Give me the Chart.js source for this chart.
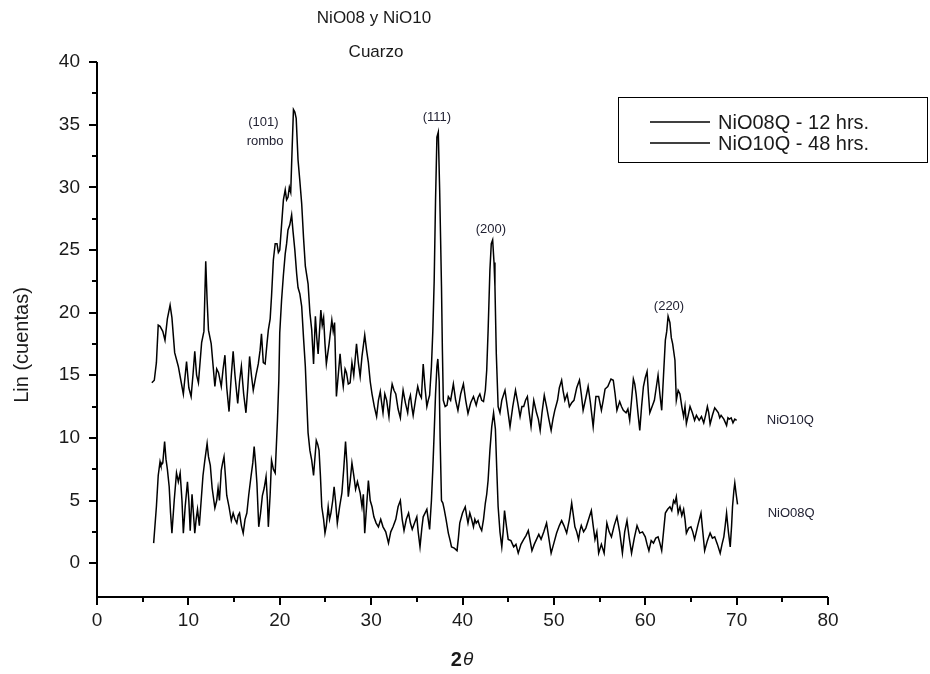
<!DOCTYPE html>
<html>
<head>
<meta charset="utf-8">
<script src="https://cdn.jsdelivr.net/npm/chart.js@4.4.1/dist/chart.umd.min.js"></script>
<style>
  html, body { margin: 0; padding: 0; background: #fff; }
  #wrap { width: 930px; height: 674px; }
</style>
</head>
<body>
<div id="wrap"><canvas id="xrd" width="930" height="674"></canvas></div>
<script>
// NiO10Q - 48 hrs. (curva superior)
const nio10X = [
  6.0,6.27,6.5,6.7,6.9,7.2,7.44,7.7,8.0,8.2,
  8.5,8.9,9.2,9.45,9.8,10.05,10.3,10.5,10.7,10.9,
  11.1,11.45,11.7,11.9,12.05,12.2,12.5,12.9,13.1,13.3,
  13.6,13.8,14.0,14.2,14.45,14.7,14.9,15.1,15.4,15.6,
  15.8,16.05,16.3,16.5,16.7,16.9,17.1,17.4,17.65,17.85,
  18.0,18.2,18.4,18.6,18.75,18.95,19.1,19.3,19.5,19.7,
  19.85,20.0,20.2,20.4,20.6,20.75,20.9,21.05,21.2,21.35,
  21.5,21.65,21.8,22.0,22.2,22.4,22.6,22.8,23.1,23.3,
  23.5,23.7,23.9,24.05,24.2,24.35,24.5,24.65,24.8,24.95,
  25.1,25.4,25.7,25.85,26.0,26.2,26.4,26.6,26.8,26.95,
  27.15,27.3,27.5,27.7,27.9,28.1,28.4,28.6,28.8,29.0,
  29.3,29.5,29.7,29.9,30.1,30.35,30.6,30.8,31.0,31.15,
  31.3,31.5,31.7,31.95,32.15,32.3,32.5,32.7,32.95,33.2,
  33.35,33.5,33.75,34.0,34.15,34.3,34.45,34.6,34.85,35.1,
  35.3,35.5,35.7,35.9,36.1,36.25,36.4,36.6,36.75,36.9,
  37.05,37.2,37.35,37.5,37.6,37.7,37.8,37.9,38.1,38.3,
  38.45,38.7,39.0,39.25,39.5,39.8,40.1,40.35,40.6,40.9,
  41.2,41.5,41.7,41.9,42.1,42.3,42.5,42.65,42.8,43.0,
  43.15,43.3,43.45,43.55,43.7,43.9,44.1,44.3,44.65,44.9,
  45.2,45.5,45.8,46.05,46.3,46.5,46.7,46.9,47.1,47.3,
  47.5,47.65,47.8,48.1,48.3,48.5,48.7,48.95,49.2,49.45,
  49.7,49.9,50.1,50.4,50.6,50.85,51.0,51.2,51.45,51.7,
  51.95,52.2,52.5,52.8,53.0,53.2,53.5,53.75,54.0,54.3,
  54.6,54.9,55.2,55.4,55.6,55.9,56.25,56.5,56.7,56.9,
  57.2,57.4,57.6,57.9,58.1,58.3,58.5,58.7,58.85,59.0,
  59.2,59.4,59.6,59.8,60.0,60.2,60.35,60.5,60.75,61.0,
  61.2,61.4,61.6,61.8,62.0,62.2,62.35,62.5,62.7,62.85,
  63.0,63.25,63.4,63.6,63.8,64.0,64.2,64.35,64.5,64.7,
  64.9,65.15,65.4,65.6,65.9,66.15,66.4,66.6,66.8,66.95,
  67.1,67.35,67.6,67.8,68.0,68.15,68.3,68.6,68.9,69.05,
  69.2,69.4,69.6,69.8,70.0
];
const nio10Y = [
  14.4,14.6,16.0,19.0,18.9,18.5,17.8,19.5,20.6,19.6,
  16.8,15.7,14.5,13.5,16.1,14.0,13.3,15.0,16.9,15.0,
  14.4,17.6,18.5,24.1,21.0,18.6,17.5,14.1,15.5,15.2,
  14.1,15.5,16.6,14.0,12.1,15.0,16.9,15.0,12.75,14.5,
  15.7,13.5,12.0,14.0,16.5,15.0,13.8,15.0,15.9,17.0,
  18.3,16.0,15.9,17.5,18.6,19.5,21.3,24.2,25.5,25.5,
  24.8,25.0,27.0,29.0,29.8,29.0,29.2,30.0,29.6,33.0,
  36.2,36.0,35.5,32.2,30.5,28.7,26.0,23.7,22.3,20.0,
  18.6,15.9,19.7,18.0,16.7,18.5,20.2,19.0,19.6,17.5,
  15.9,17.5,19.4,18.5,19.2,13.3,15.0,16.7,15.0,14.1,
  15.5,15.2,14.3,14.4,16.0,15.0,17.5,16.0,14.9,16.5,
  18.2,17.0,16.0,14.5,13.5,12.5,11.7,13.0,13.7,12.8,
  12.0,13.5,13.0,11.7,13.5,14.3,13.8,13.5,12.3,11.6,
  12.8,13.8,12.8,12.0,13.0,13.4,12.5,11.8,13.0,14.1,
  13.5,13.2,15.9,14.0,12.5,13.0,13.4,15.7,18.5,22.5,
  29.0,34.0,34.4,29.8,26.0,22.1,17.0,13.0,12.5,12.6,
  13.3,13.0,14.3,13.0,12.2,13.5,14.3,13.0,11.95,12.8,
  13.3,12.6,13.2,13.5,13.0,12.9,13.8,15.4,18.5,23.4,
  25.5,25.8,24.0,22.1,16.7,12.5,12.0,13.0,13.8,12.5,
  10.9,12.5,13.8,12.8,11.7,12.5,12.5,13.0,13.3,12.0,
  10.9,12.0,13.0,12.0,11.5,10.6,12.0,13.4,12.5,11.5,
  10.6,11.5,12.2,13.0,14.0,14.6,13.8,13.0,13.5,12.5,
  12.8,13.0,14.0,14.6,13.5,12.2,13.2,14.1,12.8,10.9,
  13.3,13.3,12.2,13.0,13.9,14.1,14.7,14.6,13.5,12.2,
  12.9,12.5,12.2,12.0,12.3,11.4,13.0,14.7,14.3,13.5,
  12.0,10.6,12.5,14.1,14.8,15.3,13.5,12.0,12.5,13.0,
  14.0,15.0,13.5,12.2,15.0,17.8,18.5,19.7,19.2,18.0,
  17.5,16.2,13.0,13.8,13.5,12.5,11.7,12.5,11.15,11.8,
  12.5,12.0,11.4,11.8,11.4,11.7,11.2,11.8,12.5,12.0,
  11.1,11.8,12.4,12.2,12.0,11.6,11.8,11.5,11.0,11.6,
  11.5,11.6,11.2,11.5,11.4
];

// NiO08Q - 12 hrs. (curva inferior)
const nio08X = [
  6.2,6.5,6.7,6.9,7.0,7.2,7.4,7.55,7.7,7.9,
  8.05,8.2,8.45,8.7,8.9,9.1,9.3,9.45,9.65,9.9,
  10.05,10.2,10.4,10.55,10.7,10.85,11.0,11.2,11.4,11.6,
  11.8,12.05,12.2,12.4,12.6,12.9,13.1,13.25,13.4,13.6,
  13.75,13.9,14.05,14.2,14.45,14.7,14.9,15.1,15.3,15.45,
  15.6,15.8,16.0,16.2,16.4,16.6,16.85,17.05,17.2,17.35,
  17.5,17.7,17.9,18.1,18.3,18.5,18.65,18.75,18.95,19.1,
  19.3,19.5,19.75,19.9,20.0,20.2,20.4,20.6,20.75,20.9,
  21.1,21.3,21.45,21.65,21.85,22.0,22.2,22.4,22.6,22.8,
  22.95,23.1,23.3,23.5,23.7,24.0,24.15,24.3,24.45,24.6,
  24.8,24.95,25.1,25.3,25.45,25.6,25.8,25.95,26.1,26.3,
  26.55,26.8,27.0,27.2,27.35,27.5,27.7,27.9,28.1,28.3,
  28.5,28.8,29.0,29.15,29.3,29.5,29.7,29.9,30.1,30.3,
  30.55,30.8,31.05,31.3,31.6,31.9,32.15,32.4,32.7,32.95,
  33.2,33.4,33.6,33.85,34.1,34.3,34.5,34.75,35.0,35.15,
  35.35,35.55,35.7,35.9,36.1,36.25,36.4,36.6,36.75,36.9,
  37.05,37.2,37.3,37.45,37.55,37.7,37.85,38.0,38.2,38.45,
  38.65,38.8,39.1,39.4,39.55,39.7,40.0,40.3,40.45,40.6,
  40.8,41.0,41.2,41.35,41.5,41.7,41.9,42.1,42.3,42.5,
  42.65,42.8,43.0,43.2,43.4,43.6,43.75,43.9,44.1,44.3,
  44.45,44.6,44.8,45.0,45.3,45.6,45.85,46.1,46.4,46.7,
  46.95,47.2,47.4,47.6,47.85,48.1,48.35,48.6,48.9,49.2,
  49.45,49.7,50.0,50.3,50.6,50.85,51.1,51.4,51.7,51.95,
  52.1,52.3,52.5,52.7,52.85,53.0,53.25,53.5,53.8,54.1,
  54.3,54.5,54.7,54.9,55.2,55.5,55.65,55.8,56.05,56.3,
  56.6,56.9,57.2,57.5,57.75,58.0,58.25,58.5,58.8,59.1,
  59.4,59.7,60.0,60.2,60.4,60.65,60.9,61.15,61.4,61.6,
  61.8,62.0,62.2,62.45,62.7,62.9,63.1,63.25,63.4,63.6,
  63.8,64.0,64.2,64.35,64.5,64.75,65.0,65.2,65.4,65.75,
  66.1,66.3,66.5,66.8,67.1,67.35,67.6,67.9,68.2,68.4,
  68.6,68.75,68.9,69.1,69.3,69.45,69.55,69.7,69.8,69.95,
  70.1
];
const nio08Y = [
  1.6,4.5,7.0,8.1,7.8,8.0,9.7,8.3,7.5,6.1,
  4.0,2.4,5.0,7.2,6.5,7.2,5.0,2.4,4.5,6.5,
  5.0,2.6,5.5,4.0,2.4,3.5,4.3,3.0,5.0,7.0,
  8.2,9.55,8.5,7.8,6.0,4.4,5.0,6.0,5.0,7.4,
  8.0,8.5,7.0,5.4,4.5,3.4,4.0,3.5,3.2,3.8,
  4.0,3.0,2.4,3.5,4.0,5.4,6.9,8.0,9.3,8.0,
  6.4,2.9,4.0,5.4,6.0,6.9,5.0,2.9,5.5,8.2,
  7.5,7.2,11.4,14.6,18.4,21.0,23.0,24.7,25.5,26.6,
  27.0,27.8,26.5,25.0,23.1,22.0,21.5,20.5,18.0,15.7,
  13.0,10.4,9.0,8.2,7.0,9.8,9.5,9.0,7.0,4.5,
  3.5,2.4,3.0,4.5,3.5,4.0,5.0,6.1,5.0,3.2,
  4.5,5.6,7.5,9.7,8.0,5.3,6.5,8.0,7.0,5.9,
  6.5,5.6,4.5,5.5,2.4,4.5,6.6,5.0,4.5,3.7,
  3.2,2.9,3.5,2.9,2.5,1.6,2.5,2.9,3.5,4.5,
  5.0,3.5,2.6,3.5,4.0,3.2,2.7,3.2,3.7,2.5,
  1.3,2.8,3.7,4.0,4.3,3.5,2.7,5.0,7.5,10.4,
  13.5,15.7,16.3,14.5,10.0,5.0,4.8,4.3,3.5,2.4,
  1.8,1.3,1.2,1.0,2.0,3.2,4.0,4.5,3.8,3.2,
  4.0,3.5,2.9,3.5,3.2,3.4,2.9,2.6,3.5,4.8,
  5.5,6.6,9.0,10.9,12.0,10.7,7.5,4.5,2.5,1.3,
  2.5,4.2,3.0,1.9,1.8,1.3,1.5,0.8,1.5,1.9,
  2.2,2.6,1.8,1.0,1.5,1.9,2.3,1.9,2.5,3.2,
  2.0,0.8,1.6,2.4,3.0,3.4,3.0,2.4,3.5,4.8,
  4.0,2.9,2.5,1.9,2.6,3.0,2.5,2.8,3.5,4.2,
  3.0,1.9,2.5,0.8,1.5,0.8,2.0,3.2,2.5,2.1,
  3.0,3.7,2.5,0.8,2.5,3.4,2.0,0.8,2.0,3.0,
  2.4,2.5,2.1,1.5,1.0,1.8,1.6,2.0,2.1,1.6,
  1.0,2.5,4.0,4.3,4.5,4.2,5.0,4.8,5.3,4.0,
  4.5,3.8,4.3,3.5,2.4,2.8,2.9,2.5,1.9,3.0,
  4.0,2.5,1.0,1.8,2.4,2.0,2.1,1.5,0.8,1.5,
  2.1,3.0,4.0,2.5,1.3,3.0,4.5,5.8,6.4,5.5,
  4.7
];

const seriesNames = ["NiO08Q - 12 hrs.", "NiO10Q - 48 hrs."];
const xTicks = [0, 10, 20, 30, 40, 50, 60, 70, 80];
const yTicks = [0, 5, 10, 15, 20, 25, 30, 35, 40];

// etiquetas de picos (en coordenadas de los datos)
const peakText = ["(101)", "rombo", "(111)", "(200)", "(220)"];
const peakX = [18.2, 18.4, 37.2, 43.1, 62.6];
const peakY = [35.2, 33.7, 35.6, 26.6, 20.5];
const curveText = ["NiO10Q", "NiO08Q"];
const curveX = [73.3, 73.4];
const curveY = [11.4, 4.0];

if (nio10X.length !== nio10Y.length || nio08X.length !== nio08Y.length) {
  throw new Error("lengths " + nio10X.length + "/" + nio10Y.length + " " + nio08X.length + "/" + nio08Y.length);
}

const FONT = '"Liberation Sans", Arial, sans-serif';
const toPts = (xs, ys) => xs.map((v, i) => ({ x: v, y: ys[i] }));

const decor = {
  id: "decor",
  afterDraw(chart) {
    const { ctx, chartArea: a, scales: { x, y } } = chart;
    ctx.save();
    ctx.strokeStyle = "#000";
    ctx.lineWidth = 2;
    ctx.beginPath();
    ctx.moveTo(a.left, a.top);
    ctx.lineTo(a.left, a.bottom);
    ctx.lineTo(a.right, a.bottom);
    ctx.stroke();

    // marcas de los ejes
    for (let v = 0; v <= 80; v += 5) {
      const px = Math.round(x.getPixelForValue(v));
      const len = v % 10 === 0 ? 8 : 5;
      ctx.beginPath();
      ctx.moveTo(px, a.bottom);
      ctx.lineTo(px, a.bottom + len);
      ctx.stroke();
    }
    for (let v = 0; v <= 40; v += 2.5) {
      const py = Math.round(y.getPixelForValue(v));
      const len = v % 5 === 0 ? 8 : 5;
      ctx.beginPath();
      ctx.moveTo(a.left, py);
      ctx.lineTo(a.left - len, py);
      ctx.stroke();
    }

    ctx.fillStyle = "#1a1a1a";
    ctx.textAlign = "center";
    ctx.textBaseline = "middle";
    ctx.font = "17px " + FONT;
    ctx.fillText("NiO08 y NiO10", 374, 18);
    ctx.fillText("Cuarzo", 376, 52);

    // titulo eje y
    ctx.save();
    ctx.translate(22, 345);
    ctx.rotate(-Math.PI / 2);
    ctx.font = "20px " + FONT;
    ctx.fillText("Lin (cuentas)", 0, 0);
    ctx.restore();

    // titulo eje x: 2θ
    ctx.font = "bold 20px " + FONT;
    const w2 = ctx.measureText("2").width;
    ctx.font = "italic 19px " + FONT;
    const wt = ctx.measureText("θ").width;
    const x0 = 462 - (w2 + wt + 1) / 2;
    ctx.textAlign = "left";
    ctx.font = "bold 20px " + FONT;
    ctx.fillText("2", x0, 660);
    ctx.font = "italic 19px " + FONT;
    ctx.fillText("θ", x0 + w2 + 1, 660);

    // leyenda
    ctx.lineWidth = 1;
    ctx.strokeRect(618.5, 97.5, 309, 65);
    ctx.lineWidth = 1.4;
    [122, 143].forEach((ly, i) => {
      ctx.beginPath();
      ctx.moveTo(650, ly);
      ctx.lineTo(710, ly);
      ctx.stroke();
      ctx.font = "20px " + FONT;
      ctx.fillText(seriesNames[i], 718, ly + 1);
    });

    // etiquetas de picos
    ctx.font = "13px " + FONT;
    ctx.fillStyle = "#222233";
    ctx.textAlign = "center";
    peakText.forEach((t, i) => {
      ctx.fillText(t, x.getPixelForValue(peakX[i]), y.getPixelForValue(peakY[i]));
    });
    ctx.textAlign = "left";
    curveText.forEach((t, i) => {
      ctx.fillText(t, x.getPixelForValue(curveX[i]), y.getPixelForValue(curveY[i]));
    });
    ctx.restore();
  }
};

new Chart(document.getElementById("xrd"), {
  type: "line",
  data: {
    datasets: [
      {
        label: seriesNames[0],
        data: toPts(nio08X, nio08Y),
        borderColor: "#000",
        borderWidth: 1.5,
        pointRadius: 0,
        tension: 0,
      },
      {
        label: seriesNames[1],
        data: toPts(nio10X, nio10Y),
        borderColor: "#000",
        borderWidth: 1.5,
        pointRadius: 0,
        tension: 0,
      },
    ],
  },
  options: {
    responsive: false,
    animation: false,
    devicePixelRatio: 1,
    layout: { padding: { top: 62, right: 102, left: 0, bottom: 0 } },
    plugins: { legend: { display: false }, title: { display: false }, tooltip: { enabled: false } },
    scales: {
      x: {
        type: "linear",
        min: 0,
        max: 80,
        afterBuildTicks: (s) => { s.ticks = xTicks.map((v) => ({ value: v })); },
        afterFit: (s) => { s.height = 77; },
        grid: { display: false, drawTicks: false },
        border: { display: false },
        ticks: { font: { family: FONT, size: 19 }, color: "#1a1a1a", padding: 12, maxRotation: 0 },
      },
      y: {
        type: "linear",
        min: -2.7,
        max: 40,
        afterBuildTicks: (s) => { s.ticks = yTicks.map((v) => ({ value: v })); },
        afterFit: (s) => { s.width = 97; },
        grid: { display: false, drawTicks: false },
        border: { display: false },
        ticks: { font: { family: FONT, size: 19 }, color: "#1a1a1a", padding: 17 },
      },
    },
  },
  plugins: [decor],
});
</script>
</body>
</html>
